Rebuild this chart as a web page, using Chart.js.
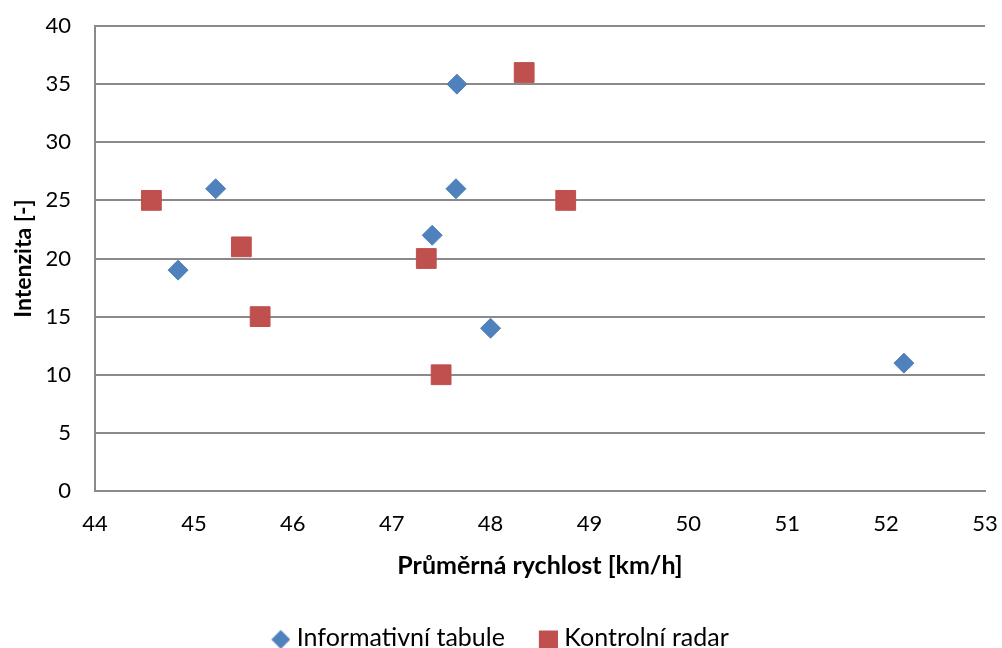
<!DOCTYPE html>
<html>
<head>
<meta charset="utf-8">
<script src="https://cdn.jsdelivr.net/npm/chart.js@4"></script>
<style>
  html, body { margin: 0; padding: 0; background: #fff; }
  #wrap { width: 1002px; height: 648px; }
</style>
</head>
<body>
<div id="wrap"><canvas id="chart" width="1002" height="648"></canvas></div>
<script>
// data
const seriesNames = ['Informativní tabule', 'Kontrolní radar'];

const tabuleX = [44.84, 45.22, 47.41, 47.66, 47.65, 48.0, 52.18];
const tabuleY = [19, 26, 22, 35, 26, 14, 11];

const radarX = [44.57, 45.48, 45.67, 47.35, 47.5, 48.34, 48.76];
const radarY = [25, 21, 15, 20, 10, 36, 25];

const xTitle = 'Průměrná rychlost [km/h]';
const yTitle = 'Intenzita [-]';

const toPoints = (xs, ys) => xs.map((x, i) => ({ x, y: ys[i] }));

const FONT = 'Lato, "Open Sans", sans-serif';
const gridColor = '#8a8a8a';
const blue = '#4f81bd';
const red = '#c0504d';

// small legend markers, drawn right-aligned so there is room before them
function legendMarker(kind, color) {
  const c = document.createElement('canvas');
  c.width = 40;
  c.height = 24;
  const g = c.getContext('2d');
  g.fillStyle = color;
  if (kind === 'diamond') {
    const cx = 40 - 9.5, cy = 14;
    g.beginPath();
    g.moveTo(cx, cy - 9.5);
    g.lineTo(cx + 9.5, cy);
    g.lineTo(cx, cy + 9.5);
    g.lineTo(cx - 9.5, cy);
    g.closePath();
    g.fill();
  } else {
    g.fillRect(40 - 19, 5, 19, 19);
  }
  return c;
}

const legendMarkers = [legendMarker('diamond', blue), legendMarker('square', red)];

const ctx = document.getElementById('chart').getContext('2d');

new Chart(ctx, {
  type: 'scatter',
  data: {
    datasets: [
      {
        label: seriesNames[0],
        data: toPoints(tabuleX, tabuleY),
        pointStyle: 'rectRot',
        pointRadius: 10,
        backgroundColor: blue,
        borderColor: blue,
        borderWidth: 1
      },
      {
        label: seriesNames[1],
        data: toPoints(radarX, radarY),
        pointStyle: 'rect',
        pointRadius: 14,
        backgroundColor: red,
        borderColor: red,
        borderWidth: 1
      }
    ]
  },
  options: {
    responsive: false,
    animation: false,
    layout: { padding: { top: 26, right: 17, left: 0, bottom: -12 } },
    plugins: {
      tooltip: { enabled: false },
      legend: {
        position: 'bottom',
        labels: {
          usePointStyle: true,
          pointStyleWidth: 28,
          color: '#000',
          font: { family: FONT, size: 25 },
          padding: 19,
          generateLabels(chart) {
            return chart.data.datasets.map((ds, i) => ({
              text: ds.label,
              fillStyle: ds.backgroundColor,
              strokeStyle: ds.borderColor,
              lineWidth: 0,
              pointStyle: legendMarkers[i],
              fontColor: '#000',
              datasetIndex: i
            }));
          }
        }
      }
    },
    scales: {
      x: {
        type: 'linear',
        min: 44,
        max: 53,
        ticks: { stepSize: 1, color: '#000', padding: 20, font: { family: FONT, size: 22 } },
        grid: { display: false, drawTicks: false },
        border: { display: true, color: gridColor, width: 2 },
        title: {
          display: true,
          text: xTitle,
          color: '#000',
          font: { family: FONT, size: 25, weight: 'bold' },
          padding: { top: 0, bottom: 25 }
        },
        afterFit(scale) {
          scale.height = 115;
          scale.paddingLeft = 13;
          scale.paddingRight = 13;
        }
      },
      y: {
        min: 0,
        max: 40,
        ticks: { stepSize: 5, color: '#000', padding: 24, font: { family: FONT, size: 22 } },
        grid: { color: gridColor, lineWidth: 2, drawTicks: false },
        border: { display: true, color: gridColor, width: 2 },
        title: {
          display: true,
          text: yTitle,
          color: '#000',
          font: { family: FONT, size: 23, weight: 'bold' },
          padding: { top: 10, bottom: 0 }
        },
        afterFit(scale) {
          scale.width = 95;
          scale.paddingTop = 13;
          scale.paddingBottom = 13;
        }
      }
    }
  }
});
</script>
</body>
</html>
